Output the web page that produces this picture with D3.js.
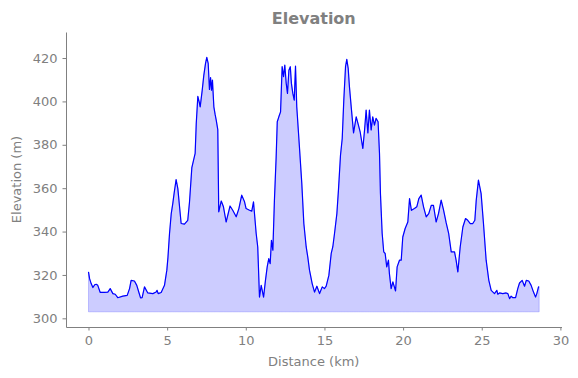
<!DOCTYPE html>
<html><head><meta charset="utf-8">
<script src="https://cdn.jsdelivr.net/npm/d3@7"></script>
<style>
html,body{margin:0;padding:0;background:#fff;}
svg{display:block;font-family:"DejaVu Sans",sans-serif;}
</style></head>
<body><svg id="c" width="578" height="378"></svg>
<script>
const distance = [0.00,0.07,0.17,0.28,0.40,0.49,0.59,0.74,1.00,1.23,1.38,1.55,1.70,1.86,2.18,2.46,2.61,2.71,2.92,3.07,3.20,3.31,3.41,3.56,3.77,4.09,4.30,4.36,4.43,4.62,4.83,4.98,5.05,5.15,5.26,5.36,5.45,5.57,5.68,5.89,6.10,6.31,6.42,6.57,6.78,6.85,6.95,7.03,7.10,7.23,7.33,7.44,7.52,7.61,7.69,7.76,7.82,7.88,7.97,8.05,8.12,8.22,8.28,8.44,8.58,8.75,9.00,9.17,9.39,9.56,9.74,9.92,10.02,10.24,10.38,10.49,10.57,10.66,10.76,10.87,10.98,11.13,11.25,11.36,11.46,11.55,11.63,11.72,11.82,11.93,12.00,12.10,12.21,12.31,12.40,12.48,12.57,12.65,12.74,12.83,12.90,12.99,13.08,13.16,13.24,13.41,13.56,13.69,13.84,13.94,14.05,14.22,14.37,14.52,14.69,14.86,15.00,15.11,15.28,15.43,15.53,15.64,15.79,15.89,16.02,16.13,16.23,16.34,16.42,16.51,16.59,16.72,16.85,17.02,17.16,17.27,17.44,17.55,17.65,17.76,17.86,17.97,18.07,18.18,18.28,18.41,18.50,18.56,18.67,18.77,18.86,18.96,19.07,19.13,19.24,19.35,19.52,19.62,19.77,19.88,19.98,20.13,20.30,20.41,20.53,20.72,20.87,21.00,21.15,21.30,21.47,21.63,21.79,21.93,22.10,22.25,22.42,22.57,22.74,22.90,23.06,23.27,23.37,23.48,23.63,23.80,23.97,24.11,24.27,24.43,24.56,24.65,24.79,24.96,25.11,25.28,25.45,25.60,25.81,25.96,26.02,26.13,26.34,26.55,26.66,26.77,26.87,26.98,27.15,27.29,27.40,27.57,27.72,27.83,27.99,28.14,28.29,28.42,28.50,28.61,28.65];
const elevation = [321.4,318.3,316.0,314.2,315.5,315.7,315.2,312.0,312.0,312.1,313.7,311.4,311.1,309.5,310.2,310.6,313.7,317.5,317.2,315.2,312.0,309.4,309.5,314.5,311.7,311.4,312.1,312.9,311.4,311.9,315.2,322.2,328.0,339.0,348.3,353.0,358.0,364.0,359.8,343.7,343.4,345.2,353.5,369.5,376.0,389.8,402.3,400.0,397.5,405.2,412.0,417.5,420.3,417.5,405.5,411.0,405.2,409.8,397.5,394.0,391.4,387.0,349.1,354.1,351.4,344.4,351.8,349.8,346.8,350.6,356.8,353.7,350.6,349.8,349.4,353.7,346.8,339.1,332.9,309.8,315.2,309.8,317.5,323.7,327.5,325.2,336.0,331.4,354.5,374.4,390.6,392.9,395.2,416.0,411.4,416.7,408.3,403.7,414.4,416.0,408.3,403.7,400.6,416.3,397.5,379.0,362.2,343.7,332.9,328.3,322.2,316.0,312.1,314.8,311.4,314.5,313.7,314.8,319.8,329.9,332.9,339.1,348.3,359.1,375.2,382.9,400.6,416.0,419.4,415.2,406.7,396.0,385.5,392.9,389.1,386.0,378.3,386.8,396.0,385.5,396.0,386.8,392.9,389.1,392.2,390.6,376.0,357.5,339.1,330.6,329.9,323.7,326.8,320.6,313.7,316.8,312.6,323.7,326.8,326.8,337.5,341.4,344.4,355.2,349.8,350.6,351.4,355.2,356.8,351.4,346.8,348.3,352.1,352.1,344.4,348.3,354.5,350.0,344.0,339.0,330.6,330.6,326.8,321.4,332.9,342.1,346.0,345.2,343.7,343.7,345.2,354.5,363.7,357.5,343.7,326.8,317.5,312.9,311.4,312.9,311.1,311.7,311.4,311.7,311.4,309.1,310.2,309.5,309.5,313.7,316.3,317.5,314.8,317.5,317.2,315.2,312.1,309.8,311.4,314.5,314.5];
const xTicks = [0,5,10,15,20,25,30];
const yTicks = [300,320,340,360,380,400,420];
const fillBase = 303;
const titleText = "Elevation";
const xLabel = "Distance (km)";
const yLabel = "Elevation (m)";

const data = distance.map((d,i)=>({d, e: elevation[i]}));
const svg = d3.select("#c");
const mLeft=66, mRight=561.5, mTop=32, mBottom=327;
const x = d3.scaleLinear().domain([-1.43, 30.07]).range([mLeft, mRight]);
const y = d3.scaleLinear().domain([296, 432]).range([mBottom, mTop]);
const gray = "#808080";

svg.append("path").datum(data)
  .attr("d", d3.area().x(p=>x(p.d)).y0(y(fillBase)).y1(p=>y(p.e)))
  .attr("fill","blue").attr("fill-opacity",0.2)
  .attr("stroke","blue").attr("stroke-opacity",0.2).attr("stroke-width",1);

svg.append("path").datum(data)
  .attr("d", d3.line().x(p=>x(p.d)).y(p=>y(p.e)))
  .attr("fill","none").attr("stroke","blue").attr("stroke-width",1.2)
  .attr("stroke-linejoin","round");

const xa = svg.append("g").attr("transform",`translate(0,${mBottom})`)
  .call(d3.axisBottom(x).tickValues(xTicks).tickSize(3.5).tickPadding(5).tickSizeOuter(0));
const ya = svg.append("g").attr("transform",`translate(${mLeft},0)`)
  .call(d3.axisLeft(y).tickValues(yTicks).tickSize(3.5).tickPadding(5).tickSizeOuter(0));
[xa,ya].forEach(g=>{
  g.selectAll("path.domain").attr("stroke",gray).attr("stroke-width",1);
  g.selectAll(".tick line").attr("stroke",gray);
  g.selectAll(".tick text").attr("fill",gray).style("font-size","13px").style("font-family","DejaVu Sans");
});

svg.append("text").attr("x",(mLeft+mRight)/2).attr("y",24).attr("text-anchor","middle")
  .attr("fill",gray).style("font-size","16px").style("font-weight","bold").text(titleText);
svg.append("text").attr("x",(mLeft+mRight)/2).attr("y",366).attr("text-anchor","middle")
  .attr("fill",gray).style("font-size","13px").text(xLabel);
svg.append("text").attr("transform",`translate(21,${(mTop+mBottom)/2}) rotate(-90)`).attr("text-anchor","middle")
  .attr("fill",gray).style("font-size","13px").text(yLabel);
</script></body></html>
